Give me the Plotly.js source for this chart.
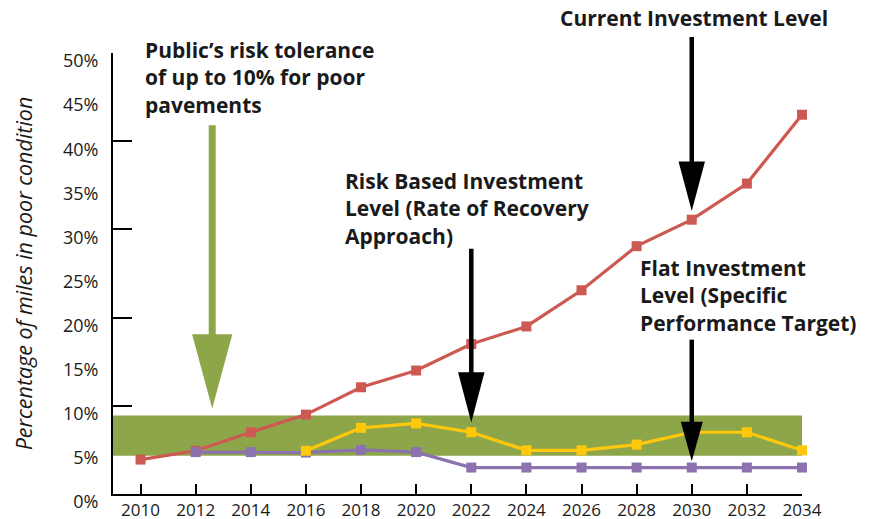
<!DOCTYPE html>
<html>
<head>
<meta charset="utf-8">
<script src="https://cdn.plot.ly/plotly-3.0.1.min.js"></script>
<style>html,body{margin:0;padding:0;background:#fff;}#chart{width:878px;height:519px;}</style>
</head>
<body>
<div id="chart"></div>
<script>
// ---- data ----
const years = [2010, 2012, 2014, 2016, 2018, 2020, 2022, 2024, 2026, 2028, 2030, 2032, 2034];
const currentLevel = [3.9, 4.9, 7.0, 9.0, 12.1, 14.0, 17.0, 19.0, 23.1, 28.1, 31.1, 35.2, 43.0];
const flatYears = [2012, 2014, 2016, 2018, 2020, 2022, 2024, 2026, 2028, 2030, 2032, 2034];
const flatLevel = [4.75, 4.75, 4.7, 5.0, 4.75, 3.0, 3.0, 3.0, 3.0, 3.0, 3.0, 3.0];
const riskYears = [2016, 2018, 2020, 2022, 2024, 2026, 2028, 2030, 2032, 2034];
const riskLevel = [4.9, 7.5, 8.0, 7.0, 4.95, 4.95, 5.6, 7.0, 7.0, 4.95];
const toleranceLow = 4.35;
const toleranceHigh = 8.9;
const yLabelVals = [0, 5, 10, 15, 20, 25, 30, 35, 40, 45, 50];
const yLabelText = ['0%', '5%', '10%', '15%', '20%', '25%', '30%', '35%', '40%', '45%', '50%'];
const yTickVals = [0, 10, 20, 30, 40, 50];
const xTickVals = years;
const yTitle = '<i>Percentage of miles in poor condition</i>';

// ---- styles ----
const RED = '#CD5A52', PURPLE = '#8C72AE', YELLOW = '#FFC80A', GREEN = '#8EA64A', INK = '#1a1a1a';
const FONT = 'Open Sans, Noto Sans, sans-serif';

function series(x, y, color) {
  return {
    x: x, y: y, type: 'scatter', mode: 'lines+markers', cliponaxis: false,
    line: {color: color, width: 3.2},
    marker: {symbol: 'square', size: 10, color: color},
    hoverinfo: 'skip', showlegend: false
  };
}

const traces = [
  // invisible carrier so the tick-mark axis is drawn
  {x: [years[0]], y: [yTickVals[0]], yaxis: 'y2', type: 'scatter', mode: 'markers',
   marker: {opacity: 0}, hoverinfo: 'skip', showlegend: false},
  series(years, currentLevel, RED),
  series(flatYears, flatLevel, PURPLE),
  series(riskYears, riskLevel, YELLOW)
];

// arrow: x in years, y values in percent of the y range
function arrow(x, top, headStart, tip, halfW, shaftW, color) {
  const p = v => v / 50;
  return [
    {type: 'line', xref: 'x', yref: 'paper', x0: x, x1: x, y0: p(top), y1: p(headStart - 0.5),
     line: {color: color, width: shaftW}, layer: 'above'},
    {type: 'path', xref: 'x', yref: 'paper',
     path: `M ${x - halfW} ${p(headStart)} L ${x + halfW} ${p(headStart)} L ${x} ${p(tip)} Z`,
     fillcolor: color, line: {width: 0}, layer: 'above'}
  ];
}

const shapes = [
  {type: 'rect', xref: 'x', yref: 'y', x0: 2009, x1: 2034, y0: toleranceLow, y1: toleranceHigh,
   fillcolor: GREEN, line: {width: 0}, layer: 'below'},
  ...arrow(2012.6, 41.8, 18.1, 9.7, 0.73, 7, GREEN),
  ...arrow(2022, 27.8, 13.8, 8.1, 0.48, 4.5, '#000'),
  ...arrow(2030, 51.8, 37.7, 32.1, 0.48, 4.5, '#000'),
  ...arrow(2030, 17.5, 8.2, 3.7, 0.40, 4.5, '#000')
];

function note(text, x, y) {
  return {text: text, xref: 'paper', yref: 'paper', x: x, y: y, xanchor: 'left', yanchor: 'top',
    align: 'left', showarrow: false, borderpad: 0,
    font: {family: FONT, size: 21, color: INK, weight: 'bold'}};
}

const annotations = [
  note('Public\u2019s risk tolerance<br>of up to 10% for poor<br>pavements', 0.045, 1.041),
  note('Risk Based Investment<br>Level (Rate of Recovery<br>Approach)', 0.335, 0.744),
  note('Current Investment Level', 0.647, 1.1145),
  note('Flat Investment<br>Level (Specific<br>Performance Target)', 0.763, 0.5476)
];

const layout = {
  width: 878, height: 519,
  margin: {l: 113, r: 76, t: 53, b: 25},
  paper_bgcolor: '#fff', plot_bgcolor: '#fff',
  font: {family: FONT, color: INK, size: 18},
  xaxis: {
    range: [2009, 2034], tickvals: xTickVals, ticks: 'inside', ticklen: 10, tickwidth: 2,
    tickcolor: '#000', showline: true, linecolor: '#000', linewidth: 2, showgrid: false,
    zeroline: false, tickfont: {size: 17}, ticklabelstandoff: 0
  },
  yaxis: {
    range: [0, 50], tickvals: yLabelVals, ticktext: yLabelText, ticks: '', showline: true,
    linecolor: '#000', linewidth: 2, showgrid: false, zeroline: false,
    tickfont: {size: 18}, ticklabelshift: 8, ticklabelstandoff: 9,
    title: {text: yTitle, font: {size: 21.5}, standoff: 24}
  },
  yaxis2: {
    overlaying: 'y', side: 'left', anchor: 'x', range: [0, 50], tickvals: yTickVals, ticks: 'inside',
    ticklen: 19, tickwidth: 2, tickcolor: '#000', showticklabels: false, showline: false,
    showgrid: false, zeroline: false
  },
  shapes: shapes,
  annotations: annotations
};

Plotly.newPlot('chart', traces, layout, {staticPlot: true});
</script>
</body>
</html>
